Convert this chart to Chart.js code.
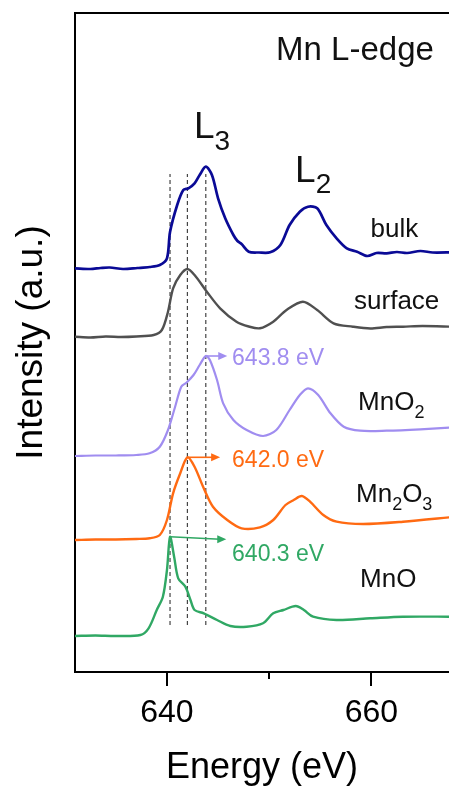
<!DOCTYPE html>
<html><head><meta charset="utf-8">
<script src="https://cdn.jsdelivr.net/npm/chart.js@4.4.0/dist/chart.umd.min.js"></script>
<style>html,body{margin:0;padding:0;background:#fff;overflow:hidden}canvas{display:block}</style>
</head><body>
<canvas id="c" width="449" height="786"></canvas>
<script>
// ---------------- data (energies in eV, intensities in arbitrary units) ----------------
const sampleNames = ['bulk', 'surface', 'MnO_2', 'Mn_2O_3', 'MnO'];

const bulkE = [631.0, 632.5, 633.5, 634.4, 635.7, 637.1, 638.3, 639.3, 640.0, 640.3, 641.0, 641.6, 642.1, 642.7, 643.2, 643.8, 644.4, 645.0, 645.7, 646.5, 646.9, 647.3, 648.0, 649.0, 650.1, 651.1, 652.0, 653.0, 653.8, 654.7, 655.6, 656.6, 657.6, 658.6, 659.6, 660.5, 661.5, 662.5, 663.5, 664.8, 666.0, 668.0];
const bulkI = [403.7, 403.0, 404.0, 404.5, 403.0, 404.0, 405.0, 407.0, 413.7, 440.0, 467.0, 482.0, 483.7, 488.7, 497.0, 505.3, 497.0, 473.7, 453.7, 437.0, 431.0, 428.0, 420.3, 419.5, 419.7, 427.0, 447.0, 460.3, 465.3, 463.7, 447.0, 433.7, 423.7, 420.3, 416.0, 419.0, 418.7, 420.0, 419.0, 421.0, 419.5, 419.7];

const surfaceE = [631.0, 632.5, 634.0, 635.5, 637.0, 638.7, 639.5, 640.1, 640.6, 641.3, 642.0, 642.7, 643.9, 645.2, 646.8, 648.0, 649.1, 650.4, 651.7, 653.3, 654.7, 656.3, 658.2, 659.9, 661.5, 663.1, 665.0, 668.0];
const surfaceI = [335.3, 334.5, 335.5, 335.0, 335.5, 337.0, 342.0, 360.3, 383.7, 397.0, 403.0, 397.0, 380.3, 363.7, 350.3, 345.5, 343.7, 350.3, 362.0, 370.3, 362.0, 348.7, 345.3, 343.5, 345.0, 345.3, 346.0, 345.3];

const mno2E = [631.0, 633.0, 635.0, 637.0, 638.3, 639.3, 640.1, 640.8, 641.4, 641.9, 642.6, 643.2, 643.8, 644.2, 644.9, 645.5, 646.5, 647.8, 649.4, 650.7, 652.0, 653.0, 653.8, 654.8, 656.0, 657.3, 658.9, 661.5, 664.8, 668.0];
const mno2I = [216.0, 216.5, 216.5, 217.0, 218.7, 225.3, 242.0, 265.3, 285.3, 289.3, 297.0, 307.0, 316.0, 312.0, 292.0, 268.7, 252.0, 242.0, 236.0, 242.0, 262.0, 277.0, 283.7, 277.0, 258.7, 245.3, 241.3, 241.3, 242.7, 244.7];

const mn2o3E = [631.0, 633.0, 635.0, 637.0, 638.3, 639.3, 640.0, 640.6, 641.3, 642.0, 642.7, 643.6, 644.5, 645.9, 647.3, 649.1, 650.4, 651.6, 652.4, 653.2, 654.0, 655.3, 656.6, 659.2, 663.1, 668.0];
const mn2o3I = [132.0, 132.5, 132.5, 133.0, 133.7, 137.0, 152.0, 178.7, 198.7, 214.7, 205.3, 183.7, 165.3, 152.0, 143.7, 144.7, 152.0, 167.0, 172.0, 176.0, 170.3, 157.0, 150.3, 148.0, 150.3, 155.0];

const mnoE = [631.0, 633.0, 635.0, 637.4, 638.2, 639.0, 639.6, 640.0, 640.3, 640.7, 641.1, 641.8, 642.3, 642.7, 643.6, 644.9, 646.2, 647.8, 649.4, 650.4, 651.4, 652.6, 653.4, 654.3, 656.6, 659.9, 663.1, 668.0];
const mnoI = [36.0, 36.5, 36.0, 37.0, 43.7, 62.0, 75.3, 102.0, 135.3, 115.3, 93.7, 85.3, 72.0, 62.0, 58.7, 52.0, 46.0, 45.3, 48.7, 58.7, 62.0, 66.0, 62.0, 55.3, 52.0, 53.7, 55.3, 55.3];

// L3 peak energies of the references MnO2, Mn2O3, MnO
const peakEnergies = [643.8, 642.0, 640.3];
const xTickValues = [640, 660];
const xTickLabels = ['640', '660'];
const xMinorTickValues = [650];

// ---------------- styling / layout ----------------
const FONT = '"Liberation Sans", Arial, Helvetica, sans-serif';
const seriesE = [bulkE, surfaceE, mno2E, mn2o3E, mnoE];
const seriesI = [bulkI, surfaceI, mno2I, mn2o3I, mnoI];
const colors = ['#0a0a96', '#505050', '#a08df0', '#ff6a12', '#30a864'];
const widths = [2.7, 2.4, 2.2, 2.4, 2.4];
const labelPos = [[659.93, 435], [658.31, 363], [658.7, 262], [658.5, 170], [658.9, 85]];
const peakSeries = [2, 3, 4];
const arrowEnd = [[645.9, null], [645.2, null], [645.8, -2.5]];
const peakTextPos = [[646.37, 307], [646.37, 205], [646.37, 111]];
const dashRange = [47, 498];

const datasets = seriesE.map((E, k) => ({
  label: sampleNames[k],
  data: E.map((e, i) => ({x: e, y: seriesI[k][i]})),
  borderColor: colors[k], borderWidth: widths[k],
  pointRadius: 0, tension: 0.3, fill: false, borderJoinStyle: 'round'
}));
peakEnergies.forEach(e => datasets.push({
  label: 'dash' + e,
  data: [{x: e, y: dashRange[0]}, {x: e, y: dashRange[1]}],
  borderColor: '#444', borderWidth: 1.2, borderDash: [4, 3], pointRadius: 0, fill: false
}));

function drawRich(ctx, str, x, y, size, color, subSize, subDrop) {
  ctx.fillStyle = color; ctx.textAlign = 'left'; ctx.textBaseline = 'alphabetic';
  const runs = []; let cur = '';
  for (let k = 0; k < str.length; k++) {
    if (str[k] === '_') { if (cur) runs.push([cur, false]); cur = ''; runs.push([str[++k], true]); }
    else cur += str[k];
  }
  if (cur) runs.push([cur, false]);
  for (const [t, sub] of runs) {
    ctx.font = (sub ? subSize : size) + 'px ' + FONT;
    ctx.fillText(t, x, sub ? y + subDrop : y);
    x += ctx.measureText(t).width;
  }
}

const decor = {
  id: 'decor',
  afterDatasetsDraw(chart) {
    const ctx = chart.ctx, xs = chart.scales.x, ys = chart.scales.y, ca = chart.chartArea;
    ctx.save();
    // top frame line
    ctx.strokeStyle = '#000'; ctx.lineWidth = 2;
    ctx.beginPath(); ctx.moveTo(ca.left - 1, ca.top); ctx.lineTo(ca.right + 2, ca.top); ctx.stroke();
    // tick marks
    ctx.lineWidth = 2;
    xTickValues.forEach(v => { const p = Math.round(xs.getPixelForValue(v)); ctx.beginPath(); ctx.moveTo(p, ca.bottom); ctx.lineTo(p, ca.bottom + 14); ctx.stroke(); });
    xMinorTickValues.forEach(v => { const p = Math.round(xs.getPixelForValue(v)); ctx.beginPath(); ctx.moveTo(p, ca.bottom); ctx.lineTo(p, ca.bottom + 7); ctx.stroke(); });
    // arrows and peak labels
    peakEnergies.forEach((e, k) => {
      const s = peakSeries[k];
      const idx = seriesE[s].indexOf(e);
      const yv = seriesI[s][idx];
      const x1 = xs.getPixelForValue(e), y1 = ys.getPixelForValue(yv);
      const x2 = xs.getPixelForValue(arrowEnd[k][0]);
      const y2 = ys.getPixelForValue(yv + (arrowEnd[k][1] || 0));
      const c = colors[s];
      ctx.strokeStyle = c; ctx.fillStyle = c; ctx.lineWidth = 1.6;
      ctx.beginPath(); ctx.moveTo(x1, y1); ctx.lineTo(x2 - 6, y2); ctx.stroke();
      ctx.beginPath(); ctx.moveTo(x2, y2); ctx.lineTo(x2 - 9, y2 - 4); ctx.lineTo(x2 - 9, y2 + 4); ctx.closePath(); ctx.fill();
      drawRich(ctx, e.toFixed(1) + ' eV', xs.getPixelForValue(peakTextPos[k][0]), ys.getPixelForValue(peakTextPos[k][1]), 23, c, 23, 0);
    });
    // sample labels
    sampleNames.forEach((n, k) => {
      drawRich(ctx, n, xs.getPixelForValue(labelPos[k][0]), ys.getPixelForValue(labelPos[k][1]), 26, '#111', 18, 8);
    });
    // edge labels
    drawRich(ctx, 'Mn L-edge', xs.getPixelForValue(650.68), ys.getPixelForValue(612), 33, '#111', 33, 0);
    drawRich(ctx, 'L_3', xs.getPixelForValue(642.65), ys.getPixelForValue(534), 37, '#111', 28, 12);
    drawRich(ctx, 'L_2', xs.getPixelForValue(652.54), ys.getPixelForValue(490), 37, '#111', 28, 11);
    ctx.restore();
  }
};

new Chart(document.getElementById('c'), {
  type: 'line',
  data: {datasets},
  plugins: [decor],
  options: {
    responsive: false, animation: false, events: [],
    layout: {padding: {top: 13, left: 0, right: 0, bottom: 0}},
    plugins: {legend: {display: false}, tooltip: {enabled: false}},
    scales: {
      x: {
        type: 'linear', min: 631, max: 667.6,
        afterBuildTicks: s => { s.ticks = xTickValues.map(v => ({value: v})); },
        afterFit: s => { s.height = 114; },
        ticks: {callback: v => { const i = xTickValues.indexOf(v); return i >= 0 ? xTickLabels[i] : ''; },
          font: {family: FONT, size: 32}, color: '#000', padding: 22, maxRotation: 0, autoSkip: false},
        grid: {display: false, drawTicks: false},
        border: {display: true, color: '#000', width: 2},
        title: {display: true, text: 'Energy (eV)', color: '#000', font: {family: FONT, size: 36, lineHeight: 1}, padding: {top: 2, bottom: 0}}
      },
      y: {
        type: 'linear', min: 0, max: 659,
        afterFit: s => { s.width = 75; },
        ticks: {display: false},
        grid: {display: false, drawTicks: false},
        border: {display: true, color: '#000', width: 2},
        title: {display: true, text: 'Intensity (a.u.)', color: '#000', font: {family: FONT, size: 37, lineHeight: 1}, padding: {top: 13, bottom: 0}}
      }
    }
  }
});
</script>
</body></html>
